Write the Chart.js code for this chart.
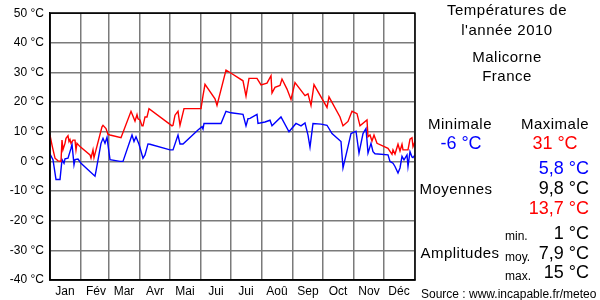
<!DOCTYPE html>
<html>
<head>
<meta charset="utf-8">
<script src="https://cdn.jsdelivr.net/npm/chart.js@4/dist/chart.umd.min.js"></script>
<style>
  body { margin: 0; background: #fff; }
  #wrap { position: relative; width: 600px; height: 300px; font-family: "Liberation Sans", Arial, sans-serif; color: #000; }
  #chart { position: absolute; left: 0; top: 0; }
  .t { position: absolute; white-space: nowrap; line-height: 20px; height: 20px; }
  .c { width: 200px; text-align: center; }
  .r { right: 11px; text-align: right; }
  .big { font-size: 18px; }
  .mid { font-size: 15px; letter-spacing: 0.5px; }
  .small { font-size: 12px; }
</style>
</head>
<body>
<div id="wrap">
  <canvas id="chart" width="600" height="300"></canvas>

  <div class="t c mid" style="left:407px; top:0px;">Températures de</div>
  <div class="t c mid" style="left:407px; top:20px;">l'année 2010</div>
  <div class="t c mid" style="left:407px; top:47px;">Malicorne</div>
  <div class="t c mid" style="left:407px; top:66px;">France</div>

  <div class="t c mid" style="left:360px; top:114px;">Minimale</div>
  <div class="t c mid" style="left:455px; top:114px;">Maximale</div>
  <div class="t c big" style="left:361px; top:133px; color:#0000ff;">-6 °C</div>
  <div class="t c big" style="left:455px; top:133px; color:#ff0000;">31 °C</div>

  <div class="t r big" style="top:158px; color:#0000ff;">5,8 °C</div>
  <div class="t c mid" style="left:356px; top:179px;">Moyennes</div>
  <div class="t r big" style="top:178px;">9,8 °C</div>
  <div class="t r big" style="top:198px; color:#ff0000;">13,7 °C</div>

  <div class="t small" style="left:505px; top:226px;">min.</div>
  <div class="t r big" style="top:223px;">1 °C</div>
  <div class="t c mid" style="left:360px; top:243px;">Amplitudes</div>
  <div class="t small" style="left:505px; top:247px;">moy.</div>
  <div class="t r big" style="top:243px;">7,9 °C</div>
  <div class="t small" style="left:505px; top:266px;">max.</div>
  <div class="t r big" style="top:262px;">15 °C</div>

  <div class="t" style="left:421px; top:284px; font-size:12px;">Source : www.incapable.fr/meteo</div>
</div>

<script>
const months = ['Jan', 'Fév', 'Mar', 'Avr', 'Mai', 'Jui', 'Jui', 'Aoû', 'Sep', 'Oct', 'Nov', 'Déc'];
const monthStarts = [0, 31, 59, 90, 120, 151, 181, 212, 243, 273, 304, 334, 365];

// daily maxima (red), day of year -> °C
const maxDays = [0, 2, 5, 8, 11, 12, 13, 15, 16, 18, 19, 20, 21, 23, 25, 26, 27, 30, 40, 41, 43, 44,
  52, 53, 56, 58, 60, 71, 81, 85, 87, 88, 90, 92, 93, 95, 97, 99, 122, 123, 125, 128, 130, 134,
  151, 153, 155, 165, 167, 176, 180, 193, 196, 199, 207, 211, 217, 221, 222, 225, 230, 232, 237,
  241, 245, 255, 258, 261, 264, 277, 279, 290, 293, 298, 302, 307, 310, 317, 318, 320, 322, 324,
  327, 338, 342, 343, 345, 348, 350, 352, 353, 358, 360, 362, 363, 365];
const maxValues = [8.9, 5.5, 1.1, 0.2, 0, 7.2, 4, 6.1, 7.8, 8.7, 6.7, 7.4, 6.1, 7.2, 7.2, 3.9, 6.1, 5, 2.2, 1.1, 3.9, 1.3,
  11.7, 12.2, 11.1, 9.1, 8.9, 8, 16.9, 13.6, 15.8, 14.4, 14, 12, 12, 15, 15, 17.8, 12, 12.2, 15.6, 16.9, 12.2, 17.8,
  17.8, 22.2, 26, 21.1, 18.9, 30.8, 30, 27.2, 22, 28, 28, 25.8, 26.4, 28.9, 23.1, 25, 25.6, 27.8, 24.4,
  20.9, 26.6, 22.2, 22.8, 18.9, 25.9, 18.2, 21.8, 15, 12, 13.5, 16.9, 16.1, 12, 14, 8.3, 8.9, 6.9, 8.9,
  6.1, 4.4, 2.4, 3.9, 2.5, 5.8, 3.5, 5.8, 3.9, 3.9, 7.5, 8, 5, 6.7];

// daily minima (blue)
const minDays = [0, 3, 6, 10, 12, 14, 15, 18, 21, 22, 24, 25, 28, 31, 45, 46, 51, 53, 55, 57, 60, 70, 73,
  82, 84, 86, 89, 93, 95, 98, 100, 120, 123, 128, 130, 133, 148, 152, 153, 154, 171, 176, 181, 193,
  196, 198, 200, 207, 208, 215, 220, 222, 231, 239, 246, 251, 255, 258, 260, 263, 271, 277, 282,
  291, 293, 298, 301, 306, 309, 313, 316, 318, 321, 323, 325, 338, 340, 343, 345, 348, 350, 352,
  354, 357, 358, 360, 362, 363, 365];
const minValues = [2.5, 0.6, -6.1, -6.1, 0.6, -0.6, 0.9, 1.1, 4.4, 5.8, -1.1, 0.6, 0.8, -0.6, -5, -3.3, 6.1, 7.8, 6.1, 8.1, 0.6, 0, 0,
  8.9, 6.7, 8.3, 5.8, 1.1, 2.2, 5.9, 5.8, 3.9, 3.9, 8.9, 5.9, 5.9, 10.6, 11.7, 10.9, 12.8, 12.8, 16.9, 16.4, 15.9,
  12, 14.4, 14.5, 15.9, 12.8, 13.3, 13.9, 12, 15, 10, 12.8, 12, 13, 8.9, 4.8, 12.8, 12.6, 12.2, 9.4,
  6.7, -2.2, 5, 9.4, 10.2, 2.8, 9.4, 11.1, 2.8, 6.1, 3.3, 2.6, 2.2, 0, -0.6, -1.7, -3.9, -2.2, 1.7,
  0.5, 2.2, -1.7, 3.3, 1.5, 1.3, 2.2];

const toPoints = (days, values) => days.map((d, i) => ({ x: d, y: values[i] }));

const frame = {
  id: 'frame',
  afterDraw(chart) {
    const { ctx, chartArea: a } = chart;
    ctx.save();
    ctx.strokeStyle = '#000';
    ctx.lineWidth = 1.5;
    ctx.strokeRect(a.left, a.top, a.right - a.left, a.bottom - a.top);
    ctx.restore();
  }
};

new Chart(document.getElementById('chart'), {
  type: 'line',
  data: {
    datasets: [
      {
        data: toPoints(maxDays, maxValues),
        borderColor: '#ff0000',
        borderWidth: 1.4,
        pointRadius: 0,
        tension: 0,
      },
      {
        data: toPoints(minDays, minValues),
        borderColor: '#0000ff',
        borderWidth: 1.4,
        pointRadius: 0,
        tension: 0,
      },
    ],
  },
  options: {
    responsive: false,
    animation: false,
    layout: { padding: { left: 0, right: 185, top: 10, bottom: 0 } },
    plugins: { legend: { display: false }, tooltip: { enabled: false } },
    scales: {
      x: {
        type: 'linear',
        min: 0,
        max: 365,
        afterBuildTicks: (scale) => {
          scale.ticks = monthStarts.map(v => ({ value: v }));
        },
        afterFit: (scale) => { scale.height = 20; },
        grid: { color: '#7a7a7a', lineWidth: 1.5, drawTicks: false },
        border: { color: '#000', width: 1.5 },
        ticks: {
          callback: (v, i) => months[i] || '',
          labelOffset: 15,
          padding: 4,
          maxRotation: 0,
          autoSkip: false,
          color: '#000',
          font: { family: 'Liberation Sans', size: 12 },
        },
      },
      y: {
        min: -40,
        max: 50,
        afterFit: (scale) => { scale.width = 50; },
        grid: { color: '#7a7a7a', lineWidth: 1.5, drawTicks: false },
        border: { color: '#000', width: 1.5 },
        ticks: {
          stepSize: 10,
          padding: 6,
          color: '#000',
          callback: (v) => v + ' °C',
          font: { family: 'Liberation Sans', size: 12 },
        },
      },
    },
  },
  plugins: [frame],
});
</script>
</body>
</html>
